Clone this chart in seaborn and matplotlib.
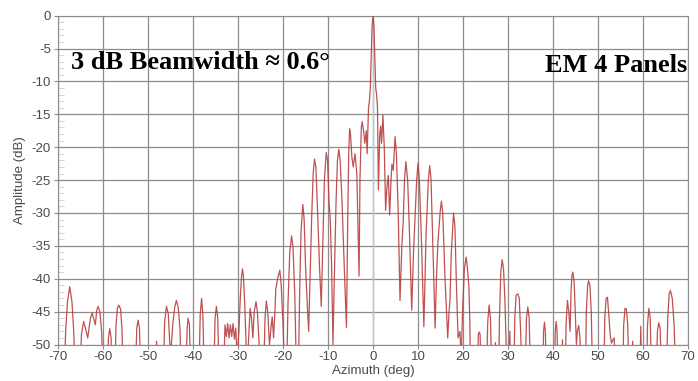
import matplotlib
matplotlib.use("Agg")
import pandas as pd
import matplotlib.pyplot as plt
import seaborn as sns
from matplotlib.ticker import MultipleLocator

# (azimuth deg, amplitude dB); -55 = below the -50 floor
left_lobes = [
    (-70.0, -60), (-68.6, -55), (-68.3, -48), (-67.9, -43.5), (-67.4, -41.2), (-66.9, -43.5), (-66.5, -48), (-66.2, -55),
    (-65.1, -55), (-64.8, -48.5), (-64.3, -46.5), (-63.8, -47.8), (-63.4, -49.0), (-62.8, -46.0), (-62.4, -45.2),
    (-62.0, -46.3), (-61.7, -47.0), (-61.4, -44.8), (-61.1, -44.2), (-60.7, -45.0), (-60.3, -48.0), (-60.0, -55),
    (-59.0, -55), (-58.8, -49.0), (-58.5, -47.6), (-58.2, -49.0), (-58.0, -55),
    (-57.4, -55), (-57.1, -47.0), (-56.8, -44.5), (-56.5, -44.0), (-56.1, -44.6), (-55.8, -47.5), (-55.5, -55),
    (-52.8, -55), (-52.5, -47.5), (-52.2, -46.3), (-51.9, -47.5), (-51.6, -55),
    (-48.4, -55), (-48.1, -49.5), (-47.8, -55),
    (-46.6, -55), (-46.3, -46.5), (-45.9, -44.2), (-45.5, -45.3), (-45.0, -52), (-44.5, -47), (-44.1, -44.5),
    (-43.7, -43.3), (-43.3, -44.3), (-42.9, -47.5), (-42.6, -55),
    (-41.6, -55), (-41.3, -47.5), (-41.1, -46.0), (-40.8, -47.0), (-40.5, -55),
    (-38.7, -55), (-38.4, -45.5), (-38.1, -43.0), (-37.8, -45.5), (-37.5, -55),
    (-35.4, -55), (-35.1, -46.0), (-34.8, -44.2), (-34.5, -46.0), (-34.2, -55),
    (-33.2, -55), (-32.9, -47.0), (-32.6, -48.8), (-32.3, -46.8), (-32.0, -49.0), (-31.7, -47.0), (-31.4, -48.8),
    (-31.1, -46.8), (-30.8, -49.2), (-30.5, -47.5), (-30.2, -52),
]

main_region = [
    (-29.8, -48), (-29.5, -43), (-29.2, -39.5), (-29.0, -38.5), (-28.8, -39.5), (-28.5, -44), (-28.2, -50), (-28.0, -54),
    (-27.7, -50), (-27.3, -44.5), (-27.0, -46.0), (-26.7, -49.0), (-26.4, -45.0), (-26.0, -43.5), (-25.7, -45.0),
    (-25.3, -50), (-25.0, -55),
    (-24.3, -55), (-24.0, -46), (-23.7, -43.4), (-23.4, -45), (-23.0, -50), (-22.6, -47), (-22.4, -45.8), (-22.1, -49),
    (-21.8, -45), (-21.6, -41.5), (-21.2, -40.0), (-20.7, -38.7), (-20.4, -41), (-20.0, -47), (-19.6, -55),
    (-19.2, -55), (-18.9, -44), (-18.5, -36), (-18.1, -33.5), (-17.8, -35), (-17.4, -42), (-17.0, -55),
    (-16.6, -55), (-16.3, -42), (-16.0, -33), (-15.6, -28.7), (-15.3, -31), (-15.0, -38), (-14.6, -44), (-14.3, -48),
    (-14.0, -40), (-13.6, -30), (-13.3, -24), (-13.0, -21.8), (-12.7, -23), (-12.3, -30), (-11.9, -38), (-11.5, -44.2),
    (-11.2, -36), (-10.8, -25), (-10.4, -20.8), (-10.1, -22), (-9.8, -28), (-9.5, -31), (-9.2, -38), (-8.9, -50),
    (-8.6, -40), (-8.2, -28), (-7.9, -22), (-7.6, -20.3), (-7.3, -22), (-6.9, -28), (-6.4, -38), (-5.9, -47.4),
    (-5.6, -30), (-5.4, -21), (-5.2, -17.2), (-5.0, -18), (-4.7, -21.5), (-4.4, -23), (-4.0, -21.0), (-3.6, -24),
    (-3.3, -33), (-3.1, -39.6),
    (-2.9, -25), (-2.6, -17), (-2.4, -16.1), (-2.1, -17.5), (-1.8, -19.4), (-1.5, -17.5), (-1.3, -21), (-1.0, -14),
    (-0.8, -13), (-0.6, -11), (-0.4, -6), (-0.2, -1.5), (0.0, 0.0), (0.2, -1.5), (0.4, -6), (0.6, -11.0),
    (0.8, -12.0), (1.0, -14), (1.2, -26.5),
    (1.5, -18), (1.7, -16.8), (1.9, -19.4), (2.2, -15.1), (2.5, -20), (2.8, -29.6), (3.1, -26), (3.4, -24.3),
    (3.7, -30.3), (4.0, -25), (4.2, -22.6), (4.5, -23.5), (4.9, -18.4), (5.2, -21), (5.6, -30), (6.0, -43.3),
    (6.4, -35), (6.7, -31.4), (7.0, -25), (7.3, -22.2), (7.7, -25), (8.1, -33), (8.6, -44.8),
    (9.0, -36), (9.3, -31.4), (9.7, -25), (10.0, -22.4), (10.3, -25), (10.8, -35), (11.3, -47.3),
    (11.8, -33), (12.3, -25), (12.6, -22.8), (12.9, -25), (13.3, -35), (13.8, -47.5),
    (14.1, -40), (14.4, -34.7), (14.9, -30), (15.2, -28.2), (15.5, -30), (16.0, -40), (16.6, -49),
    (16.9, -45), (17.1, -43.3), (17.4, -36), (17.9, -30.0), (18.2, -32), (18.5, -40), (18.9, -49), (19.3, -48),
    (19.6, -52), (19.9, -45), (20.3, -38.5), (20.7, -36.7), (21.0, -38.5), (21.3, -41.2), (21.5, -46), (21.7, -55),
]

right_lobes = [
    (23.2, -55), (23.4, -48.5), (23.6, -48.1), (23.8, -48.5), (24.0, -55),
    (25.2, -55), (25.5, -46.5), (25.8, -44.0), (26.1, -46.0), (26.4, -55),
    (27.0, -55), (27.2, -49.7), (27.4, -55),
    (27.9, -55), (28.1, -46), (28.4, -39), (28.7, -37.1), (29.0, -38.5), (29.3, -43), (29.6, -50), (29.8, -55),
    (30.2, -55), (30.4, -48), (30.6, -55),
    (31.3, -55), (31.5, -46), (31.8, -42.5), (32.2, -42.3), (32.5, -43), (32.8, -48), (33.1, -55),
    (33.8, -55), (34.1, -46), (34.4, -44.3), (34.7, -46), (35.0, -55),
    (37.7, -55), (37.9, -48), (38.1, -46.6), (38.3, -48), (38.5, -55),
    (40.3, -55), (40.5, -48), (40.7, -46.5), (40.9, -48), (41.1, -55),
    (41.9, -55), (42.1, -49.3), (42.3, -55),
    (42.7, -55), (42.9, -47), (43.2, -43.3), (43.5, -45), (43.8, -48), (44.0, -42), (44.2, -39.5), (44.4, -39.0),
    (44.7, -40.5), (45.0, -46), (45.2, -50), (45.4, -48), (45.7, -47.1), (46.0, -49), (46.2, -55),
    (47.2, -55), (47.4, -45), (47.7, -41), (47.9, -40.3), (48.2, -41), (48.5, -45), (48.8, -55),
    (51.3, -55), (51.5, -46), (51.8, -43), (52.1, -42.8), (52.4, -45.5), (52.7, -48.5), (53.0, -49.8),
    (53.3, -49.3), (53.6, -49.0), (53.9, -55),
    (55.5, -55), (55.7, -47), (56.0, -44.5), (56.3, -44.6), (56.6, -47), (56.9, -55),
    (57.5, -55), (57.7, -49.5), (57.9, -55),
    (59.3, -55), (59.5, -47.2), (59.7, -55),
    (60.8, -55), (61.0, -47), (61.3, -44.5), (61.6, -46), (61.9, -55),
    (62.9, -55), (63.2, -48), (63.5, -46.7), (63.8, -47.5), (64.1, -55),
    (65.2, -55), (65.5, -46), (65.8, -42.3), (66.1, -41.8), (66.5, -43), (66.9, -47), (67.3, -55),
    (70.0, -60),
]

x_ticks = list(range(-70, 71, 10))
y_ticks = list(range(-50, 1, 5))

sns.set_style("white")
plt.rcParams['font.family'] = ['Liberation Sans', 'DejaVu Sans']
plt.rcParams['axes.unicode_minus'] = False

pattern = pd.DataFrame(left_lobes + main_region + right_lobes, columns=['az', 'db'])

fig = plt.figure(figsize=(6.98, 3.81), dpi=100)
ax = fig.add_axes([0.0831, 0.0958, 0.9026, 0.863])

# boresight marker
ax.axvline(0, color='#a9cfe0', lw=1.0, zorder=1)
sns.lineplot(data=pattern, x='az', y='db', sort=False, estimator=None,
             color='#b83e3e', lw=0.9, alpha=0.9, ax=ax, zorder=3)

ax.set_xlim(-70, 70)
ax.set_ylim(-50, 0)
ax.set_xticks(x_ticks)
ax.set_yticks(y_ticks)
ax.yaxis.set_minor_locator(MultipleLocator(1))
ax.grid(True, which='major', color='#8c8c8c', lw=0.9)
ax.tick_params(which='major', bottom=True, left=True, length=3, color='#8c8c8c',
               labelsize=9.5, labelcolor='#4a4a4a', pad=2)
ax.tick_params(axis='y', which='minor', left=True, direction='in', length=4, color='#cccccc')
for s in ax.spines.values():
    s.set_color('#8c8c8c')

ax.set_xlabel('Azimuth (deg)', fontsize=9.5, color='#4a4a4a', labelpad=1)
ax.set_ylabel('Amplitude (dB)', fontsize=9.5, color='#4a4a4a', labelpad=4)

serif = ['Liberation Serif', 'DejaVu Serif']
ax.text(0.020, 0.837, '3 dB Beamwidth \u2248 0.6\u00b0', transform=ax.transAxes, color='black',
        family=serif, fontsize=19, fontweight='bold', va='baseline', ha='left')
ax.text(0.998, 0.830, 'EM 4 Panels', transform=ax.transAxes, color='black',
        family=serif, fontsize=19, fontweight='bold', va='baseline', ha='right')

fig.savefig('out.png', dpi=100)
